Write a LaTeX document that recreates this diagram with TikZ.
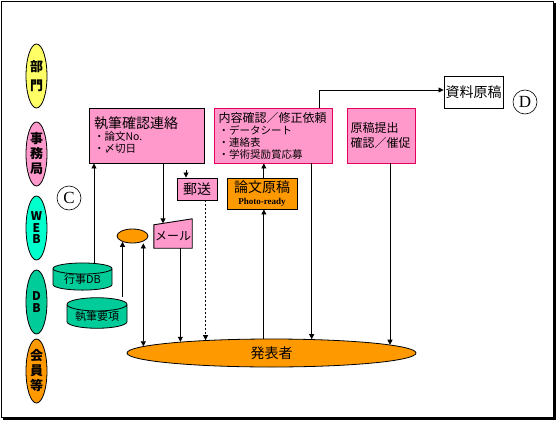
\documentclass[tikz,border=0pt]{standalone}
\usepackage{fontspec}
\setmainfont{Noto Sans CJK JP}
\newfontfamily\latinrm{Liberation Serif}
\usetikzlibrary{shapes.geometric,arrows.meta,calc,backgrounds}
\definecolor{pk}{HTML}{FF99CC}
\definecolor{ora}{HTML}{FF9900}
\definecolor{yel}{HTML}{FFFF66}
\definecolor{aqua}{HTML}{00FFCC}
\definecolor{dbgreen}{HTML}{00CC99}
\definecolor{redline}{HTML}{E6005C}
\newcommand{\fsz}[2]{\fontsize{#1pt}{#2pt}\selectfont}
\begin{document}
\begin{tikzpicture}[x=1pt,y=-1pt,
  arr/.style={-{Triangle[length=5pt,width=5pt]},line width=0.8pt},
  side/.style={ellipse,draw,line width=0.8pt,minimum width=21pt,minimum height=64pt,inner sep=0pt,align=center,font=\bfseries\fsz{13}{15}},
  box/.style={draw,line width=0.9pt,inner sep=0pt,align=left},
  db/.style={cylinder,shape border rotate=90,draw,fill=dbgreen,line width=0.8pt,aspect=0.3,inner sep=0pt,font=\fsz{11}{12}}]
\useasboundingbox (0,0) rectangle (556,420);
\draw[line width=1pt] (1.5,1.5) rectangle (553,417);
\draw[line width=3pt] (554,3) -- (554,418) -- (3,418);

% left column
\node[side,fill=yel] (bumon) at (36.5,76) {部\\[4pt]門};
\node[side,fill=pk] (jimu) at (36.5,154) {事\\務\\局};
\node[side,fill=aqua,font=\bfseries\fsz{12}{11.5}] (web) at (36.5,228) {W\\E\\B};
\node[side,fill=dbgreen,font=\bfseries\fsz{12}{11.5}] (dbside) at (36.5,302) {D\\B};
\node[side,fill=ora] (kaiin) at (36.5,371) {会\\員\\等};

\node[circle,draw,line width=0.6pt,minimum size=24pt,inner sep=0pt,font=\latinrm\fsz{17}{17}] (cmark) at (69,198) {C};
\node[circle,draw,line width=0.6pt,minimum size=24pt,inner sep=0pt,font=\latinrm\fsz{17}{17}] (dmark) at (525,102) {D};

% boxes
\node[box,fill=pk,minimum width=115pt,minimum height=55pt,text width=105pt] (renraku) at (146.5,135.5)
  {{\fsz{14}{16}執筆確認連絡}\\{\fsz{10.5}{13}・論文No.}\\{\fsz{10.5}{13}・〆切日}};
\node[box,fill=pk,draw=redline,minimum width=118pt,minimum height=55pt,text width=109pt] (naiyou) at (273,135.5)
  {{\fsz{12}{13}内容確認／修正依頼}\\{\fsz{10.5}{13}・データシート}\\{\fsz{10.5}{13}・連絡表}\\{\fsz{10.5}{13}・学術奨励賞応募}};
\node[box,fill=pk,draw=redline,minimum width=68pt,minimum height=55pt,text width=61pt,font=\fsz{12}{15}] (genkou) at (381,135.5)
  {原稿提出\\確認／催促};
\node[box,fill=white,minimum width=59pt,minimum height=32pt,font=\fsz{14}{16}] (shiryou) at (473.5,92) {資料原稿};
\node[box,fill=pk,minimum width=40pt,minimum height=22pt,font=\fsz{14}{16}] (yuusou) at (197,189) {郵送};
\node[box,fill=ora,minimum width=70pt,minimum height=31pt,align=center] (ronbun) at (262,193.5)
  {{\fsz{14}{14}論文原稿}\\{\latinrm\bfseries\fsz{9}{10}Photo-ready}};
\node[font=\fsz{12}{14},minimum width=38pt,minimum height=23pt,inner sep=0pt] (mail) at (173,236.5) {メール};
\begin{scope}[on background layer]
\filldraw[fill=pk,line width=0.9pt] (mail.south west) -- (mail.north west) -- ([yshift=6pt]mail.north east) -- (mail.south east) -- cycle;
\end{scope}
\node[ellipse,draw,fill=ora,line width=0.8pt,minimum width=31pt,minimum height=14pt,inner sep=0pt] (small) at (132.5,236) {};
\node[db,minimum width=59pt,minimum height=27pt] (gyouji) at (82.5,279.5) {行事DB};
\node[db,minimum width=60pt,minimum height=27pt] (youkou) at (97,316.5) {執筆要項};
\node[ellipse,draw,fill=ora,line width=0.8pt,minimum width=289pt,minimum height=28pt,inner sep=0pt,font=\fsz{14}{16}] (presenter) at (271.5,353) {発表者};

% connectors
\coordinate (mailin) at ($(mail.north west)!0.24!([yshift=6pt]mail.north east)$);
\coordinate (yin) at (186,170);
\draw[arr] (gyouji.north -| 94,0) -- (renraku.south -| 94,0);
\draw[arr] (renraku.south -| mailin) -- (mailin);
\draw[arr] (yin) -- (yin |- yuusou.north);
\draw[arr] (presenter.173.6 |- mail.south) -- (presenter.173.6);
\draw[arr,dash pattern=on 2pt off 2pt] (presenter.169.6 |- yuusou.south) -- (presenter.169.6);
\draw[arr] (small.210 |- youkou.north) -- (small.210);
\draw[{Triangle[length=5pt,width=5pt]}-{Triangle[length=5pt,width=5pt]},line width=0.8pt] (small.south -| presenter.177.47) -- (presenter.177.47);
\draw[arr] (presenter.118.2) -- (presenter.118.2 |- ronbun.south);
\draw[arr] (ronbun.north -| presenter.118.2) -- (naiyou.south -| presenter.118.2);
\draw[arr] (naiyou.south -| presenter.19.3) -- (presenter.19.3);
\draw[arr] (genkou.south -| presenter.4.97) -- (presenter.4.97);
\draw[arr] (naiyou.north -| 319,0) |- ([yshift=2pt]shiryou.west);
\end{tikzpicture}
\end{document}
